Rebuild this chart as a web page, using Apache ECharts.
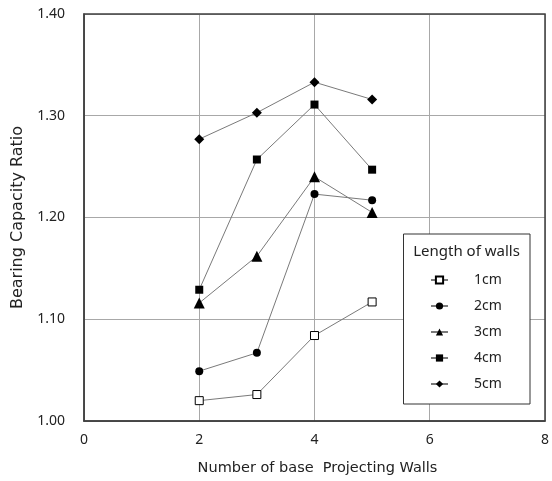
<!DOCTYPE html>
<html>
<head>
<meta charset="utf-8">
<script src="https://cdn.jsdelivr.net/npm/echarts@6/dist/echarts.min.js"></script>
<style>html,body{margin:0;padding:0;background:#fff}#c{width:552px;height:481px}</style>
</head>
<body>
<div id="c"></div>
<script>
var walls = [2, 3, 4, 5];
var seriesNames = ['1cm', '2cm', '3cm', '4cm', '5cm'];
var v1cm = [1.020, 1.026, 1.084, 1.117];
var v2cm = [1.049, 1.067, 1.223, 1.217];
var v3cm = [1.116, 1.162, 1.240, 1.205];
var v4cm = [1.129, 1.257, 1.311, 1.247];
var v5cm = [1.277, 1.303, 1.333, 1.316];
var legendTitle = 'Length of walls';
var xTitle = 'Number of base  Projecting Walls';
var yTitle = 'Bearing Capacity Ratio';

var FONT = '"Noto Sans", "Open Sans", sans-serif';
var TFONT = '"DejaVu Sans", "Noto Sans", sans-serif';
var values = [v1cm, v2cm, v3cm, v4cm, v5cm];
var symbols = ['rect', 'circle', 'triangle', 'rect', 'diamond'];
var sizes = [8, 8, 11, 8, 10];

function pairs(arr) { return walls.map(function (w, i) { return [w, arr[i]]; }); }

var series = seriesNames.map(function (n, k) {
  return {
    name: n,
    type: 'line',
    data: pairs(values[k]),
    symbol: symbols[k],
    symbolSize: sizes[k],
    showAllSymbol: true,
    lineStyle: { color: '#7a7a7a', width: 1 },
    itemStyle: k === 0 ? { color: '#fff', borderColor: '#000', borderWidth: 1 } : { color: '#000', borderWidth: 0 },
    emphasis: { disabled: true },
    z: 2
  };
});

var chart = echarts.init(document.getElementById('c'), null, { renderer: 'canvas' });
chart.setOption({
  animation: false,
  backgroundColor: '#fff',
  textStyle: { fontFamily: FONT },
  grid: { left: 84, right: 1, top: 14, bottom: 60, show: true, borderColor: '#404040', borderWidth: 1.5, backgroundColor: 'transparent', z: 3 },
  xAxis: {
    type: 'value', min: 0, max: 8, interval: 2,
    name: xTitle, nameLocation: 'middle', nameGap: 40,
    nameTextStyle: { fontSize: 14.5, color: '#222', fontFamily: TFONT, padding: [0, 0, 0, 6] },
    axisLine: { show: true, lineStyle: { color: '#404040', width: 1.5 } },
    axisTick: { show: false },
    axisLabel: { fontSize: 14, color: '#222', margin: 12, fontFamily: FONT, showMaxLabel: true, alignMaxLabel: 'center' },
    splitLine: { show: true, lineStyle: { color: '#a8a8a8', width: 1 } }
  },
  yAxis: {
    type: 'value', min: 1.0, max: 1.4, interval: 0.1,
    name: yTitle, nameLocation: 'middle', nameGap: 56,
    nameTextStyle: { fontSize: 16, color: '#222', fontFamily: TFONT },
    axisLine: { show: true, lineStyle: { color: '#404040', width: 1.5 } },
    axisTick: { show: false },
    axisLabel: { fontSize: 14, color: '#222', margin: 19, fontFamily: FONT, formatter: function (v) { return v.toFixed(2); } },
    splitLine: { show: true, lineStyle: { color: '#a8a8a8', width: 1 } }
  },
  legend: {
    orient: 'vertical',
    left: 430, top: 273, padding: 0,
    itemWidth: 17, itemHeight: 9, itemGap: 12,
    data: seriesNames,
    selectedMode: false,
    z: 10,
    textStyle: { fontSize: 14, color: '#222', fontFamily: FONT, padding: [0, 0, 0, 21] }
  },
  graphic: {
    elements: [
      { type: 'rect', z: 8, shape: { x: 403.5, y: 234, width: 126.5, height: 170 }, style: { fill: '#fff', stroke: '#333', lineWidth: 1 } },
      { type: 'text', z: 9, x: 466.5, y: 252, style: { text: legendTitle, fontSize: 15, fill: '#222', fontFamily: FONT, align: 'center', verticalAlign: 'middle' } }
    ]
  },
  series: series
});
</script>
</body>
</html>
